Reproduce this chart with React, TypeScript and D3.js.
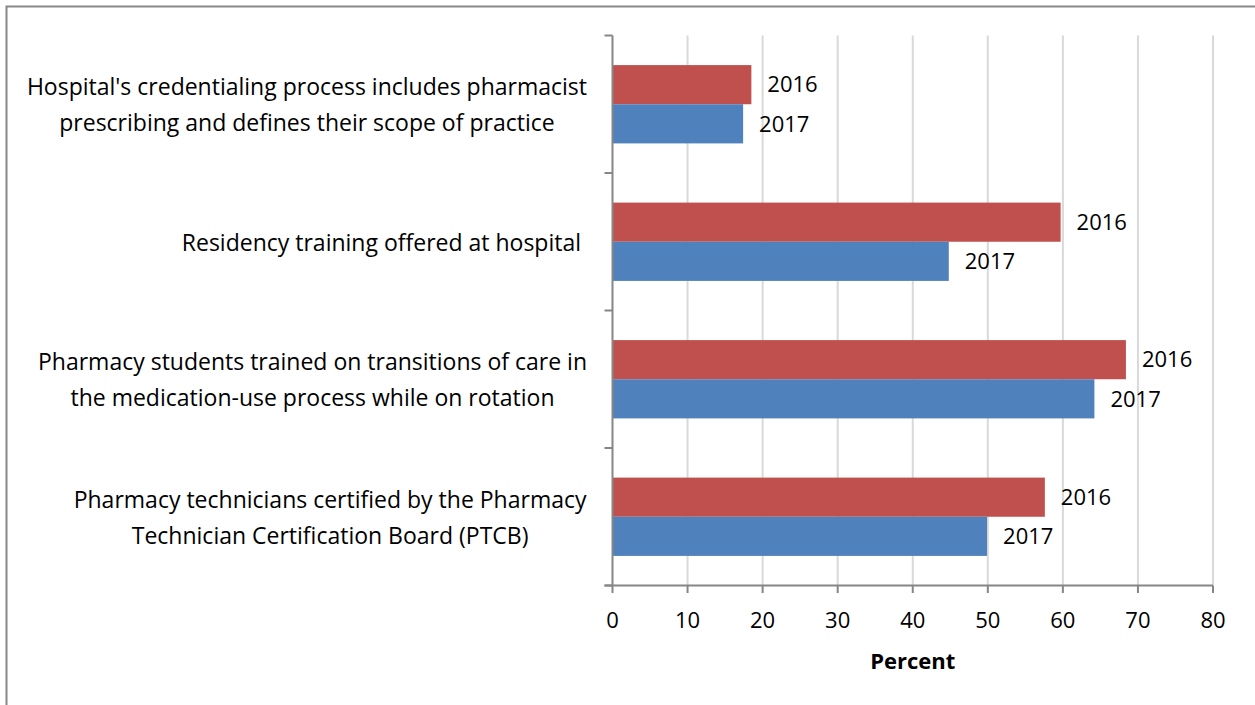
import React, { useEffect, useRef } from 'react'
import * as d3 from 'd3'

const categories = [
  "Hospital's credentialing process includes pharmacist|prescribing and defines their scope of practice",
  'Residency training offered at hospital ',
  'Pharmacy students trained on transitions of care in|the medication-use process while on rotation',
  'Pharmacy technicians certified by the Pharmacy|Technician Certification Board (PTCB)',
]
const series = ['2016', '2017']
const values2016 = [18.5, 59.7, 68.4, 57.6]
const values2017 = [17.4, 44.8, 64.2, 49.9]
const xTicks = [0, 10, 20, 30, 40, 50, 60, 70, 80]
const colors = { '2016': '#C0504D', '2017': '#4F81BD' }

export default function App() {
  const ref = useRef<SVGSVGElement>(null)

  useEffect(() => {
    const width = 1255, height = 705
    const svg = d3.select(ref.current)
    svg.selectAll('*').remove()
    const font = '"Open Sans", sans-serif'
    const fs = 22

    // outer chart border (only top and left are visible in the frame)
    svg.append('rect')
      .attr('x', 6.5).attr('y', 6.5)
      .attr('width', width + 20).attr('height', height + 20)
      .attr('fill', '#fff').attr('stroke', '#888').attr('stroke-width', 2)

    const x = d3.scaleLinear().domain([0, 80]).range([612.5, 1213])
    const y0 = d3.scaleBand().domain(categories).range([35.5, 585.5]).padding(0)
    const y1 = d3.scaleBand().domain(series).range([0, y0.bandwidth()])
      .paddingInner(0).paddingOuter(0.756)

    // gridlines
    svg.append('g').selectAll('line')
      .data(xTicks.slice(1))
      .join('line')
      .attr('x1', d => x(d)).attr('x2', d => x(d))
      .attr('y1', 35.5).attr('y2', 585.5)
      .attr('stroke', '#d9d9d9').attr('stroke-width', 2)

    // bars
    const rows = categories.map((c, i) => ({ c, vals: [values2016[i], values2017[i]] }))
    const g = svg.append('g')
    rows.forEach(r => {
      series.forEach((s, j) => {
        const v = r.vals[j]
        const yy = y0(r.c)! + y1(s)!
        g.append('rect')
          .attr('x', x(0)).attr('y', yy)
          .attr('width', x(v) - x(0)).attr('height', y1.bandwidth())
          .attr('fill', colors[s as '2016' | '2017'])
        g.append('text')
          .attr('x', x(v) + 16).attr('y', yy + y1.bandwidth() / 2)
          .attr('dy', '0.35em')
          .attr('font-family', font).attr('font-size', fs)
          .attr('fill', '#000')
          .text(s)
      })
    })

    // y axis
    const axisColor = '#868686'
    svg.append('line')
      .attr('x1', x(0)).attr('x2', x(0)).attr('y1', 35.5).attr('y2', 585.5)
      .attr('stroke', axisColor).attr('stroke-width', 2)
    const bounds = [...categories.map(c => y0(c)!), 585.5]
    svg.append('g').selectAll('line')
      .data(bounds)
      .join('line')
      .attr('x1', x(0) - 8).attr('x2', x(0))
      .attr('y1', d => d).attr('y2', d => d)
      .attr('stroke', axisColor).attr('stroke-width', 2)

    // category labels
    categories.forEach(c => {
      const lines = c.split('|')
      const cy = y0(c)! + y0.bandwidth() / 2 + 1
      const lh = 36
      const t = svg.append('text')
        .attr('font-family', font).attr('font-size', 23).attr('fill', '#000')
        .attr('text-anchor', 'middle')
        .attr('xml:space', 'preserve')
      lines.forEach((ln, i) => {
        t.append('tspan')
          .attr('x', 0)
          .attr('y', cy + (i - (lines.length - 1) / 2) * lh)
          .attr('dy', '0.35em')
          .text(ln)
      })
      // right align the centered block
      const bb = (t.node() as SVGTextElement).getBBox()
      t.attr('transform', `translate(${587 - (bb.x + bb.width)},0)`)
    })

    // x axis
    svg.append('line')
      .attr('x1', x(0) - 8).attr('x2', x(80)).attr('y1', 585.5).attr('y2', 585.5)
      .attr('stroke', axisColor).attr('stroke-width', 2)
    svg.append('g').selectAll('line')
      .data(xTicks)
      .join('line')
      .attr('x1', d => x(d)).attr('x2', d => x(d))
      .attr('y1', 585.5).attr('y2', 593)
      .attr('stroke', axisColor).attr('stroke-width', 2)
    svg.append('g').selectAll('text')
      .data(xTicks)
      .join('text')
      .attr('x', d => x(d)).attr('y', 628)
      .attr('text-anchor', 'middle')
      .attr('font-family', font).attr('font-size', fs).attr('fill', '#000')
      .text(d => d)

    svg.append('text')
      .attr('x', (x(0) + x(80)) / 2).attr('y', 669)
      .attr('text-anchor', 'middle')
      .attr('font-family', font).attr('font-size', 22).attr('font-weight', 'bold')
      .attr('fill', '#000')
      .text('Percent')
  }, [])

  return (
    <svg ref={ref} width={1255} height={705}
      style={{ position: 'absolute', left: 0, top: 0, background: '#fff' }} />
  )
}
